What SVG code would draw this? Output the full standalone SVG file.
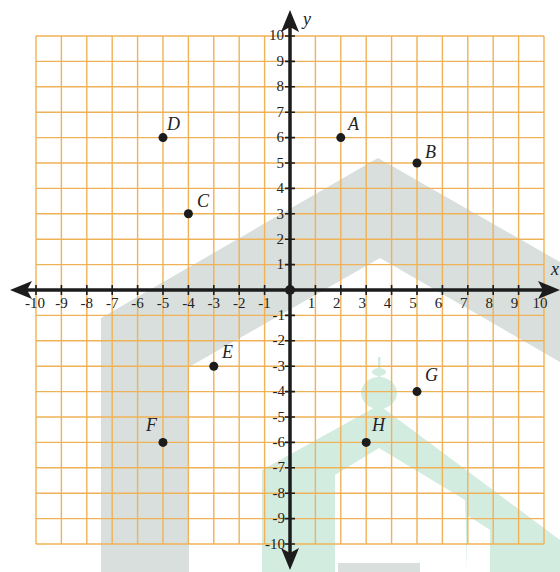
<svg xmlns="http://www.w3.org/2000/svg" width="560" height="572" viewBox="0 0 560 572">
<style>
.g{stroke:#f0b258;stroke-width:1.4;fill:none}
.ax{stroke:#1c1c1c;stroke-width:3.5;fill:none}
.tk{stroke:#1c1c1c;stroke-width:1.6}
.n{font-family:"Liberation Serif",serif;font-size:15px;fill:#222}
.nx{text-anchor:middle}
.ny{text-anchor:end}
.lb{font-family:"Liberation Serif",serif;font-size:18px;font-style:italic;fill:#222}
.pt{fill:#1c1c1c}
</style>
<rect width="560" height="572" fill="#ffffff"/>
<g id="watermark">
<polygon points="101,572 101,318 378,158 560,262 560,362 380,258 189,367 189,572" fill="#d8dfdc"/>
<rect x="338" y="563" width="82" height="9" fill="#d8dfdc"/>
<g fill="#d3ece0">
<rect x="378" y="357" width="2.5" height="22"/>
<ellipse cx="379" cy="372" rx="7" ry="4"/>
<ellipse cx="379" cy="393" rx="18" ry="16"/>
<polygon points="379,405 560,540 560,572 490,572 490,530 467,515 467,572 465,500 379,448 335,475 335,572 262,572 262,470"/>
</g>
</g>
<g id="grid">
<path class="g" d="M36,36V544M61.4,36V544M86.8,36V544M112.2,36V544M137.6,36V544M163,36V544M188.4,36V544M213.8,36V544M239.2,36V544M264.6,36V544M290,36V544M315.4,36V544M340.8,36V544M366.2,36V544M391.6,36V544M417,36V544M442.4,36V544M467.8,36V544M493.2,36V544M518.6,36V544M544,36V544"/>
<path class="g" d="M36,36H544M36,61.4H544M36,86.8H544M36,112.2H544M36,137.6H544M36,163H544M36,188.4H544M36,213.8H544M36,239.2H544M36,264.6H544M36,290H544M36,315.4H544M36,340.8H544M36,366.2H544M36,391.6H544M36,417H544M36,442.4H544M36,467.8H544M36,493.2H544M36,518.6H544M36,544H544"/>
</g>
<g id="connectors">
<path class="ax" d="M22,290H548M290,22V558"/>
<polygon points="10,290 32,281 27,290 32,299" fill="#1c1c1c"/>
<polygon points="560,290 538,281 543,290 538,299" fill="#1c1c1c"/>
<polygon points="290,10 281,32 290,27 299,32" fill="#1c1c1c"/>
<polygon points="290,570 281,548 290,553 299,548" fill="#1c1c1c"/>
<path class="tk" d="M36,285V295M61.4,285V295M86.8,285V295M112.2,285V295M137.6,285V295M163,285V295M188.4,285V295M213.8,285V295M239.2,285V295M264.6,285V295M315.4,285V295M340.8,285V295M366.2,285V295M391.6,285V295M417,285V295M442.4,285V295M467.8,285V295M493.2,285V295M518.6,285V295M544,285V295"/>
<path class="tk" d="M285,36H295M285,61.4H295M285,86.8H295M285,112.2H295M285,137.6H295M285,163H295M285,188.4H295M285,213.8H295M285,239.2H295M285,264.6H295M285,315.4H295M285,340.8H295M285,366.2H295M285,391.6H295M285,417H295M285,442.4H295M285,467.8H295M285,493.2H295M285,518.6H295M285,544H295"/>
<circle class="pt" cx="290" cy="290" r="5"/>
</g>
<g id="xlabels" class="n nx">
<text x="35" y="308">-10</text><text x="61.4" y="308">-9</text><text x="86.8" y="308">-8</text><text x="112.2" y="308">-7</text><text x="137.6" y="308">-6</text><text x="163" y="308">-5</text><text x="188.4" y="308">-4</text><text x="213.8" y="308">-3</text><text x="239.2" y="308">-2</text><text x="264.6" y="308">-1</text>
<text x="311.4" y="308">1</text><text x="336.8" y="308">2</text><text x="362.2" y="308">3</text><text x="387.6" y="308">4</text><text x="413" y="308">5</text><text x="438.4" y="308">6</text><text x="463.8" y="308">7</text><text x="489.2" y="308">8</text><text x="514.6" y="308">9</text><text x="540" y="308">10</text>
</g>
<g id="ylabels" class="n ny">
<text x="284" y="40">10</text><text x="284" y="66">9</text><text x="284" y="91">8</text><text x="284" y="117">7</text><text x="284" y="142">6</text><text x="284" y="168">5</text><text x="284" y="193">4</text><text x="284" y="219">3</text><text x="284" y="244">2</text><text x="284" y="269">1</text>
<text x="285" y="320">-1</text><text x="285" y="345">-2</text><text x="285" y="371">-3</text><text x="285" y="396">-4</text><text x="285" y="422">-5</text><text x="285" y="447">-6</text><text x="285" y="472">-7</text><text x="285" y="498">-8</text><text x="285" y="523">-9</text><text x="285" y="549">-10</text>
</g>
<text class="lb" x="303" y="25">y</text>
<text class="lb" x="551" y="275">x</text>
<g id="A"><circle class="pt" cx="340.8" cy="137.6" r="4.5"/><text class="lb" x="348" y="130">A</text></g>
<g id="B"><circle class="pt" cx="417" cy="163" r="4.5"/><text class="lb" x="425" y="158">B</text></g>
<g id="C"><circle class="pt" cx="188.4" cy="213.8" r="4.5"/><text class="lb" x="197" y="207">C</text></g>
<g id="D"><circle class="pt" cx="163" cy="137.6" r="4.5"/><text class="lb" x="167" y="130">D</text></g>
<g id="E"><circle class="pt" cx="213.8" cy="366.2" r="4.5"/><text class="lb" x="222" y="358">E</text></g>
<g id="F"><circle class="pt" cx="163" cy="442.4" r="4.5"/><text class="lb" x="146" y="431">F</text></g>
<g id="G"><circle class="pt" cx="417" cy="391.6" r="4.5"/><text class="lb" x="425" y="381">G</text></g>
<g id="H"><circle class="pt" cx="366.2" cy="442.4" r="4.5"/><text class="lb" x="372" y="431">H</text></g>
</svg>
